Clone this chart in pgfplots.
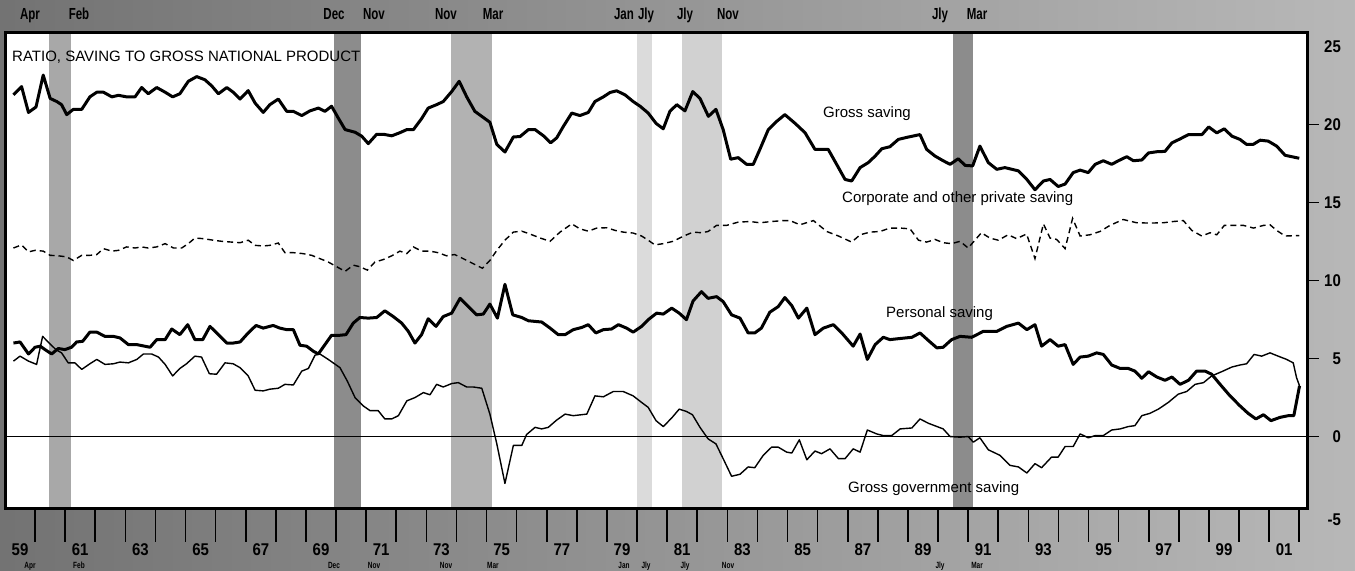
\documentclass[border=0pt]{standalone}
\usepackage{fontspec}
\setmainfont{Liberation Sans}
\newfontfamily\tickfont[FakeStretch=0.88]{Liberation Sans Bold}
\newfontfamily\monthfont[FakeStretch=0.72]{Liberation Sans Bold}
\usepackage{pgfplots}
\usepackage{pgfplotstable}
\pgfplotsset{compat=1.18}

\pgfplotstableread{
x y
1959.28 21.93
1959.55 22.46
1959.78 20.80
1960.03 21.15
1960.27 23.20
1960.50 21.70
1960.72 21.50
1960.88 21.30
1961.05 20.66
1961.27 21.00
1961.55 21.00
1961.82 21.80
1962.05 22.10
1962.27 22.10
1962.55 21.80
1962.77 21.90
1963.04 21.80
1963.32 21.80
1963.54 22.40
1963.76 22.00
1964.04 22.40
1964.32 22.10
1964.57 21.80
1964.81 22.00
1965.09 22.80
1965.37 23.10
1965.64 22.90
1965.87 22.50
1966.09 22.00
1966.37 22.40
1966.58 22.10
1966.81 21.66
1967.08 22.20
1967.31 21.40
1967.58 20.80
1967.80 21.30
1968.08 21.66
1968.36 20.87
1968.58 20.87
1968.86 20.60
1969.13 20.90
1969.41 21.08
1969.63 20.87
1969.85 21.20
1970.07 20.45
1970.30 19.70
1970.63 19.53
1970.85 19.28
1971.07 18.80
1971.35 19.40
1971.57 19.40
1971.85 19.30
1972.12 19.50
1972.35 19.70
1972.57 19.70
1972.84 20.40
1973.06 21.08
1973.34 21.30
1973.56 21.50
1973.84 22.14
1974.09 22.80
1974.34 21.80
1974.61 20.87
1974.84 20.55
1975.11 20.17
1975.34 18.75
1975.61 18.26
1975.89 19.23
1976.11 19.25
1976.39 19.70
1976.61 19.70
1976.89 19.30
1977.13 18.85
1977.33 19.17
1977.55 19.90
1977.83 20.76
1978.10 20.60
1978.38 20.80
1978.60 21.50
1978.88 21.80
1979.10 22.08
1979.32 22.19
1979.60 21.93
1979.87 21.50
1980.10 21.20
1980.37 20.76
1980.63 20.10
1980.87 19.75
1981.09 20.87
1981.32 21.30
1981.59 20.90
1981.85 22.14
1982.09 21.70
1982.37 20.55
1982.62 21.00
1982.86 19.70
1983.11 17.80
1983.36 17.90
1983.64 17.47
1983.86 17.47
1984.08 18.43
1984.36 19.70
1984.64 20.23
1984.91 20.66
1985.25 20.10
1985.58 19.50
1985.91 18.43
1986.35 18.43
1986.63 17.47
1986.91 16.50
1987.13 16.40
1987.41 17.26
1987.68 17.58
1987.91 18.00
1988.13 18.47
1988.40 18.60
1988.68 19.07
1988.96 19.20
1989.40 19.38
1989.62 18.43
1989.90 18.00
1990.17 17.70
1990.40 17.47
1990.67 17.83
1990.90 17.40
1991.15 17.37
1991.39 18.64
1991.67 17.58
1991.95 17.15
1992.22 17.26
1992.67 17.05
1992.95 16.50
1993.22 15.84
1993.50 16.40
1993.72 16.50
1993.99 16.05
1994.22 16.20
1994.49 16.94
1994.72 17.10
1994.99 16.94
1995.22 17.47
1995.49 17.70
1995.77 17.47
1995.99 17.70
1996.27 17.96
1996.49 17.70
1996.77 17.75
1996.99 18.20
1997.27 18.28
1997.54 18.30
1997.77 18.85
1998.04 19.10
1998.32 19.38
1998.54 19.38
1998.77 19.38
1998.99 19.87
1999.26 19.49
1999.51 19.75
1999.76 19.28
2000.03 19.07
2000.25 18.75
2000.47 18.75
2000.70 19.02
2000.97 18.96
2001.25 18.64
2001.53 18.05
2001.75 17.96
2002.00 17.86
}\grosssaving

\pgfplotstableread{
x y
1959.28 12.10
1959.55 12.30
1959.78 11.85
1960.00 11.95
1960.27 11.90
1960.50 11.63
1960.77 11.60
1961.05 11.53
1961.27 11.30
1961.55 11.63
1961.82 11.63
1962.05 11.68
1962.27 12.06
1962.55 11.90
1962.77 11.95
1963.04 12.17
1963.32 12.10
1963.54 12.17
1963.76 12.10
1964.04 12.17
1964.32 12.38
1964.60 12.10
1964.87 12.10
1965.09 12.38
1965.31 12.74
1965.59 12.70
1965.92 12.60
1966.20 12.53
1966.53 12.48
1966.81 12.44
1967.08 12.60
1967.31 12.27
1967.58 12.23
1967.80 12.27
1968.08 12.42
1968.30 11.80
1968.58 11.80
1968.90 11.74
1969.19 11.63
1969.46 11.42
1969.74 11.20
1970.02 10.90
1970.30 10.60
1970.57 11.00
1970.79 10.90
1971.04 10.68
1971.29 11.20
1971.57 11.36
1971.85 11.60
1972.12 11.90
1972.35 11.74
1972.57 12.17
1972.84 11.90
1973.12 11.90
1973.39 11.80
1973.67 11.60
1973.94 11.68
1974.22 11.42
1974.55 11.10
1974.86 10.80
1975.11 11.30
1975.34 11.95
1975.61 12.60
1975.89 13.12
1976.17 13.18
1976.44 13.00
1976.78 12.74
1977.11 12.53
1977.44 13.12
1977.83 13.65
1978.10 13.33
1978.38 13.18
1978.66 13.38
1978.99 13.40
1979.27 13.23
1979.54 13.12
1979.87 13.06
1980.15 12.87
1980.37 12.60
1980.59 12.30
1980.87 12.38
1981.20 12.53
1981.53 12.85
1981.86 13.12
1982.14 13.08
1982.36 13.16
1982.64 13.55
1982.97 13.55
1983.36 13.76
1983.75 13.80
1984.08 13.72
1984.47 13.80
1984.86 13.86
1985.08 13.86
1985.41 13.59
1985.86 13.86
1986.30 13.16
1986.69 12.87
1987.13 12.48
1987.41 12.95
1987.74 13.12
1988.07 13.16
1988.40 13.38
1988.74 13.38
1989.07 13.33
1989.35 12.60
1989.62 12.48
1989.90 12.65
1990.17 12.44
1990.45 12.38
1990.73 12.53
1991.00 12.10
1991.17 12.48
1991.44 13.08
1991.72 12.74
1992.00 12.60
1992.33 12.95
1992.61 12.70
1992.94 13.00
1993.22 11.42
1993.50 13.65
1993.72 12.74
1993.94 12.65
1994.22 12.06
1994.47 14.00
1994.72 12.87
1995.05 12.95
1995.38 13.16
1995.71 13.55
1996.15 13.93
1996.60 13.72
1997.04 13.70
1997.48 13.72
1997.82 13.80
1998.15 13.86
1998.43 13.23
1998.76 12.87
1999.04 13.08
1999.26 12.95
1999.51 13.55
1999.82 13.55
2000.15 13.55
2000.48 13.38
2000.81 13.55
2001.03 13.59
2001.25 13.23
2001.53 12.87
2002.00 12.90
}\corporate

\pgfplotstableread{
x y
1959.28 6.00
1959.50 6.07
1959.78 5.30
1960.00 5.73
1960.17 5.80
1960.33 5.58
1960.55 5.30
1960.77 5.65
1960.99 5.58
1961.21 5.73
1961.38 6.07
1961.58 6.11
1961.82 6.70
1962.05 6.70
1962.32 6.43
1962.60 6.43
1962.82 6.33
1963.10 5.90
1963.38 5.90
1963.82 5.73
1964.04 6.22
1964.32 6.22
1964.54 6.90
1964.81 6.54
1965.07 7.18
1965.31 6.22
1965.57 6.22
1965.81 7.07
1966.09 6.54
1966.37 6.00
1966.58 6.00
1966.81 6.07
1967.08 6.65
1967.34 7.13
1967.58 6.96
1967.91 7.13
1968.13 6.96
1968.36 6.86
1968.58 6.86
1968.80 5.86
1969.02 5.80
1969.24 5.48
1969.41 5.30
1969.63 5.90
1969.85 6.50
1970.13 6.50
1970.33 6.54
1970.57 7.28
1970.79 7.64
1971.07 7.60
1971.35 7.64
1971.62 8.07
1971.90 7.70
1972.18 7.28
1972.40 6.75
1972.62 6.00
1972.84 6.54
1973.06 7.56
1973.32 7.07
1973.56 7.70
1973.84 7.92
1974.12 8.87
1974.39 8.34
1974.67 7.81
1974.89 7.86
1975.11 8.50
1975.36 7.60
1975.61 9.77
1975.87 7.81
1976.17 7.64
1976.39 7.43
1976.83 7.35
1977.11 6.96
1977.38 6.54
1977.61 6.54
1977.88 6.86
1978.16 7.00
1978.38 7.18
1978.63 6.65
1978.88 6.86
1979.15 6.90
1979.38 7.18
1979.65 6.96
1979.87 6.70
1980.15 7.07
1980.37 7.50
1980.65 7.92
1980.87 7.86
1981.15 8.24
1981.40 7.92
1981.64 7.50
1981.86 8.70
1982.14 9.30
1982.36 8.87
1982.64 8.98
1982.86 8.66
1983.14 7.81
1983.42 7.60
1983.69 6.65
1983.91 6.65
1984.13 6.96
1984.41 7.98
1984.69 8.34
1984.91 8.92
1985.14 8.40
1985.36 7.60
1985.64 8.24
1985.91 6.54
1986.19 6.96
1986.52 7.18
1986.80 6.65
1987.18 5.80
1987.41 6.58
1987.65 4.95
1987.91 5.90
1988.18 6.37
1988.40 6.22
1988.68 6.28
1989.13 6.37
1989.40 6.65
1989.68 6.16
1989.96 5.69
1990.17 5.73
1990.45 6.22
1990.73 6.43
1991.12 6.37
1991.50 6.75
1991.95 6.75
1992.28 7.07
1992.67 7.28
1992.95 6.86
1993.22 7.18
1993.44 5.80
1993.72 6.22
1993.99 5.80
1994.22 5.90
1994.49 4.63
1994.72 5.10
1994.99 5.16
1995.27 5.37
1995.49 5.27
1995.77 4.59
1996.05 4.37
1996.32 4.37
1996.54 4.20
1996.77 3.74
1996.99 4.16
1997.27 3.82
1997.54 3.61
1997.77 3.82
1998.04 3.35
1998.32 3.61
1998.59 4.20
1998.87 4.20
1999.09 4.00
1999.37 3.35
1999.70 2.61
2000.03 1.97
2000.30 1.49
2000.56 1.13
2000.81 1.40
2001.06 1.02
2001.36 1.23
2001.64 1.34
2001.82 1.34
2002.01 3.25
}\personal

\pgfplotstableread{
x y
1959.28 4.84
1959.50 5.16
1959.78 4.84
1960.05 4.63
1960.25 6.43
1960.47 6.00
1960.69 5.58
1960.88 5.37
1961.10 4.73
1961.32 4.73
1961.55 4.31
1961.82 4.67
1962.05 4.95
1962.32 4.63
1962.60 4.67
1962.82 4.78
1963.10 4.73
1963.38 4.95
1963.60 5.30
1963.87 5.30
1964.10 5.10
1964.32 4.63
1964.57 3.89
1964.81 4.37
1965.03 4.67
1965.31 5.16
1965.53 5.10
1965.79 4.03
1966.03 4.00
1966.31 4.73
1966.58 4.67
1966.81 4.42
1967.08 3.89
1967.31 2.97
1967.58 2.93
1967.80 3.04
1968.08 3.10
1968.30 3.35
1968.58 3.31
1968.86 4.20
1969.08 4.37
1969.30 5.22
1969.46 5.30
1969.74 4.95
1970.13 4.42
1970.37 3.57
1970.63 2.50
1970.90 1.97
1971.13 1.66
1971.40 1.66
1971.62 1.13
1971.85 1.13
1972.07 1.34
1972.35 2.29
1972.62 2.50
1972.90 2.82
1973.12 2.68
1973.34 3.35
1973.56 3.18
1973.84 3.40
1974.06 3.46
1974.34 3.18
1974.56 3.18
1974.84 3.10
1975.11 1.44
1975.34 -0.47
1975.61 -3.01
1975.89 -0.57
1976.17 -0.57
1976.33 0.13
1976.61 0.59
1976.83 0.49
1977.05 0.59
1977.33 1.06
1977.61 1.44
1977.88 1.34
1978.33 1.44
1978.60 2.61
1978.88 2.55
1979.21 2.89
1979.54 2.89
1979.87 2.61
1980.15 2.19
1980.37 1.87
1980.63 1.02
1980.87 0.64
1981.15 1.19
1981.40 1.76
1981.64 1.61
1981.84 1.40
1982.09 0.59
1982.36 -0.15
1982.62 -0.47
1982.86 -1.42
1983.14 -2.55
1983.42 -2.42
1983.69 -1.95
1983.91 -2.00
1984.19 -1.21
1984.47 -0.68
1984.69 -0.68
1984.97 -1.00
1985.14 -1.06
1985.39 -0.21
1985.64 -1.49
1985.91 -0.93
1986.13 -1.10
1986.41 -0.79
1986.69 -1.42
1986.91 -1.42
1987.18 -0.79
1987.41 -1.00
1987.65 0.42
1987.96 0.17
1988.18 0.06
1988.46 0.06
1988.74 0.49
1989.13 0.55
1989.40 1.13
1989.68 0.85
1990.17 0.49
1990.40 0.00
1990.73 -0.04
1991.00 0.00
1991.17 -0.36
1991.39 -0.08
1991.67 -0.85
1992.06 -1.21
1992.39 -1.85
1992.67 -1.95
1992.95 -2.34
1993.22 -1.74
1993.44 -2.00
1993.77 -1.32
1993.99 -1.32
1994.22 -0.64
1994.49 -0.64
1994.72 0.17
1994.99 -0.08
1995.22 0.06
1995.49 0.06
1995.77 0.42
1996.05 0.49
1996.32 0.64
1996.54 0.70
1996.77 1.34
1997.04 1.49
1997.32 1.76
1997.65 2.19
1997.98 2.72
1998.26 2.89
1998.54 3.35
1998.82 3.46
1999.09 3.89
1999.42 4.16
1999.76 4.46
2000.03 4.59
2000.25 4.67
2000.50 5.27
2000.75 5.16
2001.03 5.37
2001.30 5.16
2001.58 4.95
2001.80 4.73
2001.91 3.78
2002.01 3.25
}\government

\begin{document}
\begin{tikzpicture}[x=1bp,y=1bp]
\useasboundingbox (0,0) rectangle (1355,571);
\shade[left color=black!55, right color=black!28] (0,0) rectangle (1355,571);
\begin{axis}[
  at={(5bp,62bp)}, anchor=south west,
  scale only axis, width=1302bp, height=476bp,
  xmin=1959, xmax=2002.26, ymin=-4.65, ymax=25.9,
  clip=false,
  axis background/.style={fill=white},
  axis on top,
  axis line style={line width=3bp},
  major tick length=0pt,
  xtick={1959.5,1961.5,1963.5,1965.5,1967.5,1969.5,1971.5,1973.5,1975.5,1977.5,1979.5,1981.5,1983.5,1985.5,1987.5,1989.5,1991.5,1993.5,1995.5,1997.5,1999.5,2001.5},
  xticklabels={59,61,63,65,67,69,71,73,75,77,79,81,83,85,87,89,91,93,95,97,99,01},
  xticklabel style={anchor=base, inner sep=0pt, yshift=-47bp, font=\tickfont\fontsize{17bp}{20bp}\selectfont},
  ytick={0,5,10,15,20,25}, yticklabel pos=right,
  yticklabel style={anchor=east, inner sep=0pt, xshift=34bp, font=\tickfont\fontsize{17bp}{20bp}\selectfont},
  /pgf/number format/assume math mode=true,
]
% recession bands
\addplot[draw=none, fill=black!34, forget plot] coordinates {(1960.45,-4.65) (1961.2,-4.65) (1961.2,25.9) (1960.45,25.9)} -- cycle;
\addplot[draw=none, fill=black!45, forget plot] coordinates {(1969.92,-4.65) (1970.83,-4.65) (1970.83,25.9) (1969.92,25.9)} -- cycle;
\addplot[draw=none, fill=black!30, forget plot] coordinates {(1973.83,-4.65) (1975.17,-4.65) (1975.17,25.9) (1973.83,25.9)} -- cycle;
\addplot[draw=none, fill=black!14, forget plot] coordinates {(1980.0,-4.65) (1980.5,-4.65) (1980.5,25.9) (1980.0,25.9)} -- cycle;
\addplot[draw=none, fill=black!18, forget plot] coordinates {(1981.5,-4.65) (1982.83,-4.65) (1982.83,25.9) (1981.5,25.9)} -- cycle;
\addplot[draw=none, fill=black!45, forget plot] coordinates {(1990.5,-4.65) (1991.17,-4.65) (1991.17,25.9) (1990.5,25.9)} -- cycle;
% year tick marks below the frame
\pgfplotsinvokeforeach{1960,1961,...,2002}{
  \addplot[black, line width=1.6bp, forget plot] coordinates {(#1,-4.65) (#1,-6.75)};
}
% short value tick marks right of the frame
\pgfplotsinvokeforeach{0,5,10,15,20}{
  \addplot[black, line width=1bp, forget plot] coordinates {(2002.26,#1) (2002.66,#1)};
}
% zero line
\addplot[black, line width=0.9bp, forget plot] coordinates {(1959,0) (2002.26,0)};
% series
\addplot[black, line width=3bp, line join=round] table {\grosssaving};
\addplot[black, line width=1.4bp, dash pattern=on 6bp off 4bp] table {\corporate};
\addplot[black, line width=3bp, line join=round] table {\personal};
\addplot[black, line width=1.4bp, line join=round] table {\government};
\end{axis}
% -5 label below the frame
\node[anchor=east, inner sep=0pt, font=\tickfont\fontsize{17bp}{20bp}\selectfont] at (1341,51) {-5};
% titles and series labels
\node[anchor=base west, inner sep=0pt, font=\fontsize{15bp}{18bp}\selectfont] at (12,509) {RATIO, SAVING TO GROSS NATIONAL PRODUCT};
\node[anchor=base west, inner sep=0pt, font=\fontsize{15bp}{18bp}\selectfont] at (823,453) {Gross saving};
\node[anchor=base west, inner sep=0pt, font=\fontsize{15bp}{18bp}\selectfont] at (842,368) {Corporate and other private saving};
\node[anchor=base west, inner sep=0pt, font=\fontsize{15bp}{18bp}\selectfont] at (886,253) {Personal saving};
\node[anchor=base west, inner sep=0pt, font=\fontsize{15bp}{18bp}\selectfont] at (848,78) {Gross government saving};
% month labels (top and bottom)
\foreach \mx/\mt in {30/Apr,79/Feb,334/Dec,374/Nov,446/Nov,493/Mar,624/Jan,646/Jly,685/Jly,728/Nov,940/Jly,977/Mar} {
  \node[anchor=base, inner sep=0pt, font=\monthfont\fontsize{16bp}{19bp}\selectfont] at (\mx,551) {\mt};
  \node[anchor=base, inner sep=0pt, font=\monthfont\fontsize{9bp}{11bp}\selectfont] at (\mx,2) {\mt};
}
\end{tikzpicture}
\end{document}
